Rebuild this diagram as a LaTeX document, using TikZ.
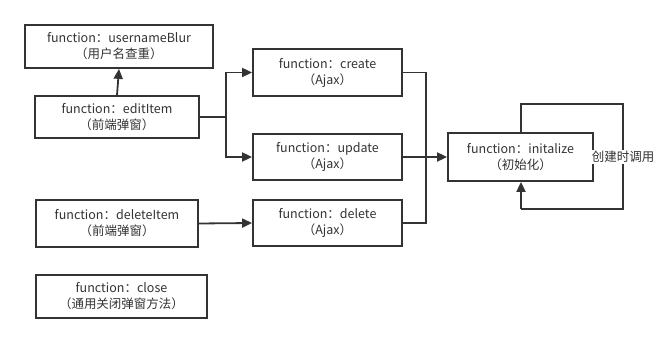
\documentclass[tikz,border=0pt]{standalone}
\usepackage{fontspec}
\setmainfont{Noto Sans CJK SC}
\usetikzlibrary{arrows.meta}
\definecolor{ink}{HTML}{333333}
\begin{document}
\begin{tikzpicture}[x=1pt,y=-1pt,
  fn/.style={draw=ink, line width=1.8pt, fill=white, text=ink, align=center,
    inner sep=0pt, font=\fontsize{12.5}{16}\selectfont},
  link/.style={draw=ink, line width=1.8pt},
  arr/.style={link, -{Triangle[length=10pt,width=9pt]}}]
\useasboundingbox (0,0) rectangle (670,344);

% function boxes
\node[fn, minimum width=188pt, minimum height=43pt] (blur) at (119,46.5) {function：usernameBlur\\（用户名查重）};
\node[fn, minimum width=164pt, minimum height=42pt] (edit) at (117,117) {function：editItem\\（前端弹窗）};
\node[fn, minimum width=162pt, minimum height=47pt] (delitem) at (117,223.5) {function：deleteItem\\（前端弹窗）};
\node[fn, minimum width=171pt, minimum height=43pt] (close) at (121.5,296.5) {function：close\\（通用关闭弹窗方法）};
\node[fn, minimum width=149pt, minimum height=47pt] (create) at (327.5,72.5) {function：create\\（Ajax）};
\node[fn, minimum width=149pt, minimum height=46pt] (update) at (327.5,157) {function：update\\（Ajax）};
\node[fn, minimum width=149pt, minimum height=46pt] (delete) at (327.5,223) {function：delete\\（Ajax）};
\node[fn, minimum width=145pt, minimum height=48pt] (init) at (520.5,157) {function：initalize\\（初始化）};

% junction points
\coordinate (split) at (226,117);
\coordinate (mergetop) at (426,72.5);
\coordinate (mergebot) at (426,223);
\coordinate (looptop) at (521,104);
\coordinate (loopbot) at (521,209);
\coordinate (loopright) at (623,157);

% editItem calls
\draw[arr] (edit.north) -- (blur.south);
\draw[link] (edit.east) -- (split);
\draw[arr] (split) |- (create.west);
\draw[arr] (split) |- (update.west);
\draw[arr] (delitem.east) -- (delete.west);

% ajax results flow into initalize
\draw[link] (create.east) -- (mergetop) -- (mergebot) -- (delete.east);
\draw[arr] (update.east) -- (init.west);

% self call on creation
\draw[link] (init.north -| looptop) -- (looptop) -| (loopright) |- (loopbot);
\draw[arr] (loopbot) -- (init.south -| loopbot);
\node[fill=white, text=ink, inner sep=1pt, font=\fontsize{12.5}{15}\selectfont] (looplabel) at (loopright) {创建时调用};
\end{tikzpicture}
\end{document}
